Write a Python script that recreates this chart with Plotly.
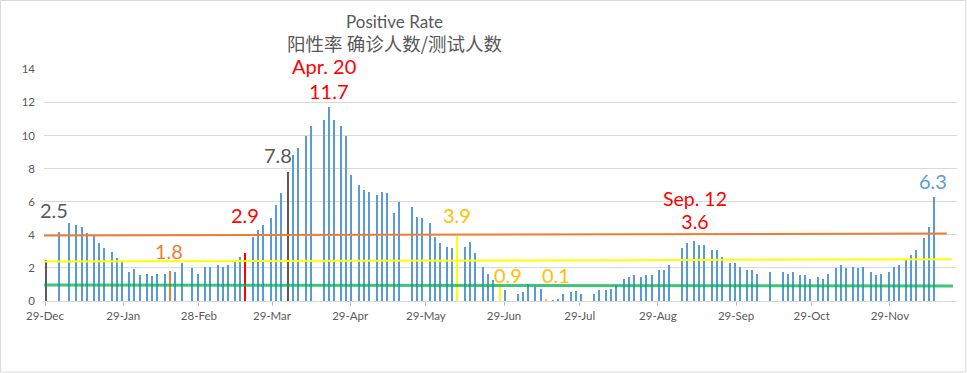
import plotly.graph_objects as go

# ---------------- data ----------------
dates = [
    "2020-12-29", "2021-01-03", "2021-01-07", "2021-01-10", "2021-01-12", "2021-01-14",
    "2021-01-17", "2021-01-19", "2021-01-21", "2021-01-24", "2021-01-26", "2021-01-28",
    "2021-01-31", "2021-02-02", "2021-02-04", "2021-02-07", "2021-02-09", "2021-02-11",
    "2021-02-14", "2021-02-16", "2021-02-18", "2021-02-21", "2021-02-25", "2021-02-27",
    "2021-03-02", "2021-03-04", "2021-03-07", "2021-03-09", "2021-03-11", "2021-03-14",
    "2021-03-16", "2021-03-18", "2021-03-21", "2021-03-23", "2021-03-25", "2021-03-28",
    "2021-03-30", "2021-04-01", "2021-04-04", "2021-04-06", "2021-04-08", "2021-04-11",
    "2021-04-13", "2021-04-18", "2021-04-20", "2021-04-22", "2021-04-25", "2021-04-27",
    "2021-04-29", "2021-05-02", "2021-05-04", "2021-05-06", "2021-05-09", "2021-05-11",
    "2021-05-13", "2021-05-16", "2021-05-18", "2021-05-23", "2021-05-25", "2021-05-27",
    "2021-05-30", "2021-06-01", "2021-06-03", "2021-06-06", "2021-06-08", "2021-06-10",
    "2021-06-13", "2021-06-15", "2021-06-17", "2021-06-20", "2021-06-22", "2021-06-24",
    "2021-06-27", "2021-06-29", "2021-07-04", "2021-07-06", "2021-07-08", "2021-07-11",
    "2021-07-13", "2021-07-15", "2021-07-18", "2021-07-20", "2021-07-22", "2021-07-25",
    "2021-07-27", "2021-07-29", "2021-08-03", "2021-08-05", "2021-08-08", "2021-08-10",
    "2021-08-12", "2021-08-15", "2021-08-17", "2021-08-19", "2021-08-22", "2021-08-24",
    "2021-08-26", "2021-08-29", "2021-08-31", "2021-09-02", "2021-09-07", "2021-09-09",
    "2021-09-12", "2021-09-14", "2021-09-16", "2021-09-19", "2021-09-21", "2021-09-23",
    "2021-09-26", "2021-09-28", "2021-09-30", "2021-10-03", "2021-10-05", "2021-10-07",
    "2021-10-12", "2021-10-17", "2021-10-19", "2021-10-21", "2021-10-24", "2021-10-26",
    "2021-10-28", "2021-10-31", "2021-11-02", "2021-11-04", "2021-11-07", "2021-11-09",
    "2021-11-11", "2021-11-14", "2021-11-16", "2021-11-18", "2021-11-21", "2021-11-23",
    "2021-11-25", "2021-11-28", "2021-11-30", "2021-12-02", "2021-12-05", "2021-12-07",
    "2021-12-09", "2021-12-12", "2021-12-14", "2021-12-16",
]
rates = [
    2.5, 4.2, 4.74, 4.6, 4.48, 4.12,
    3.96, 3.52, 3.22, 2.97, 2.61, 2.39,
    1.77, 1.91, 1.59, 1.61, 1.49, 1.61,
    1.61, 1.8, 1.77, 2.31, 2.01, 1.65,
    2.07, 2.07, 2.19, 2.07, 2.19, 2.49,
    2.66, 2.9, 3.85, 4.27, 4.57, 4.99,
    5.78, 6.51, 7.8, 8.8, 9.22, 9.95,
    10.55, 10.92, 11.7, 10.92, 10.55, 9.95,
    7.6, 6.99, 6.69, 6.57, 6.38, 6.57,
    6.51, 5.3, 5.96, 5.66, 5.06, 4.99,
    4.69, 3.85, 3.48, 3.24, 3.18, 3.9,
    3.24, 3.54, 2.9, 2.03, 1.61, 1.25,
    0.9, 0.64, 0.4, 0.52, 1.01, 0.83,
    0.7, 0.1, 0.06, 0.1, 0.4, 0.52,
    0.58, 0.4, 0.4, 0.64, 0.66, 0.72,
    0.95, 1.33, 1.46, 1.58, 1.46, 1.58,
    1.58, 1.88, 1.88, 2.18, 3.2, 3.5,
    3.6, 3.37, 3.37, 3.08, 3.08, 2.65,
    2.29, 2.29, 2.04, 1.86, 1.86, 1.62,
    1.74, 1.73, 1.61, 1.73, 1.55, 1.55,
    1.31, 1.43, 1.31, 1.61, 1.97, 2.17,
    1.98, 2.04, 1.98, 2.04, 1.74, 1.56,
    1.62, 1.74, 2.04, 2.16, 2.47, 2.77,
    3.08, 3.79, 4.46, 6.3,
]

highlight_dates = ["2020-12-29", "2021-02-16", "2021-03-18", "2021-04-04",
                   "2021-06-10", "2021-06-27", "2021-07-15"]
highlight_colors = ["#595959", "#ED7D31", "#FF0000", "#595959",
                    "#FFFF00", "#FFFF00", "#FFC000"]

tick_dates = ["2020-12-29", "2021-01-29", "2021-02-28", "2021-03-29", "2021-04-29",
              "2021-05-29", "2021-06-29", "2021-07-29", "2021-08-29", "2021-09-29",
              "2021-10-29", "2021-11-29"]
tick_labels = ["29-Dec", "29-Jan", "28-Feb", "29-Mar", "29-Apr", "29-May",
               "29-Jun", "29-Jul", "29-Aug", "29-Sep", "29-Oct", "29-Nov"]

# reference level lines (start/end date and value)
level_starts = ["2020-12-25", "2020-12-25", "2020-12-25"]
level_ends = ["2021-12-21 14:00", "2021-12-23 12:00", "2021-12-24 00:00"]
level_start_vals = [3.95, 2.38, 0.97]
level_end_vals = [4.08, 2.52, 0.90]
level_colors = ["#ED7D31", "#FFFF00", "rgba(0,176,80,0.75)"]
level_widths = [2, 2, 3]

# data labels (multi-line labels use <br>)
label_texts = ["2.5", "1.8", "2.9", "7.8", "Apr. 20", "11.7", "3.9", "0.9", "0.1",
               "Sep. 12<br>3.6", "6.3"]
label_dates = ["2020-12-29", "2021-02-16", "2021-03-18", "2021-04-04", "2021-04-20",
               "2021-04-20", "2021-06-10", "2021-06-27", "2021-07-15", "2021-09-12",
               "2021-12-16"]
label_values = [2.5, 1.8, 2.9, 7.8, 11.7, 11.7, 3.9, 0.9, 0.1, 3.6, 6.3]
label_colors = ["#595959", "#ED7D31", "#FF0000", "#595959", "#FF0000", "#FF0000",
                "#FFC000", "#FFC000", "#FFC000", "#FF0000", "#5B9BD5"]
label_xshift = [8, -1, -1, -10, -5, 0, 0, 8, 10, 1, -1]
label_yshift = [50, 20, 38, 17, 41, 16, 21, 11, 24, 31.5, 16]
label_base_size = [20, 20, 20, 20, 20, 20, 20, 20, 20, 17.5, 20]
label_line_size = [20, 20, 20, 20, 20, 20, 20, 20, 20, 19.5, 20]

# ---------------- layout geometry ----------------
W, H = 967, 373
ML, MR, MT, MB = 44, 10, 69, 72
PW, PH = W - ML - MR, H - MT - MB


def px_x(x):
    return (x - ML) / PW


def px_y(y):
    return (H - MB - y) / PH


FONT = "Lato, 'Noto Sans CJK SC', sans-serif"
GRAY = "#595959"

color_map = dict(zip(highlight_dates, highlight_colors))
bar_colors = [color_map.get(d, "#5B9BD5") for d in dates]

fig = go.Figure()
fig.add_trace(go.Bar(
    x=dates, y=rates,
    marker=dict(color=bar_colors, line=dict(width=0)),
    width=0.45 * 86400000,
    xperiod=86400000, xperiodalignment="middle",
    showlegend=False, hoverinfo="x+y",
))

for xs, xe, ys, ye, c, w in zip(level_starts, level_ends, level_start_vals,
                                level_end_vals, level_colors, level_widths):
    fig.add_trace(go.Scatter(x=[xs, xe], y=[ys, ye], mode="lines",
                             line=dict(color=c, width=w), showlegend=False,
                             hoverinfo="skip"))

annotations = []
for t, d, v, c, dx, dy, fs, ls in zip(label_texts, label_dates, label_values,
                                      label_colors, label_xshift, label_yshift,
                                      label_base_size, label_line_size):
    txt = "<br>".join(f"<span style='font-size:{ls}px'>{p}</span>" for p in t.split("<br>"))
    annotations.append(dict(
        x=d + " 12:00", y=v, xref="x", yref="y", text=txt, showarrow=False,
        xanchor="center", yanchor="middle", xshift=dx, yshift=dy,
        font=dict(family=FONT, size=fs, color=c),
    ))

annotations.append(dict(
    x=px_x(394), y=px_y(22), xref="paper", yref="paper", text="Positive Rate",
    showarrow=False, xanchor="center", yanchor="middle",
    font=dict(family=FONT, size=17, color=GRAY)))
annotations.append(dict(
    x=px_x(394.5), y=px_y(43), xref="paper", yref="paper",
    text="阳性率 确诊人数/测试人数",
    showarrow=False, xanchor="center", yanchor="middle",
    font=dict(family="'Noto Sans CJK SC', sans-serif", size=18.5, color=GRAY)))

fig.update_layout(
    width=W, height=H,
    margin=dict(l=ML, r=MR, t=MT, b=MB, pad=0),
    paper_bgcolor="white", plot_bgcolor="white",
    bargap=0,
    showlegend=False,
    annotations=annotations,
    shapes=[dict(type="rect", xref="paper", yref="paper",
                 x0=px_x(0.5), x1=px_x(966), y0=px_y(372), y1=px_y(0.5),
                 line=dict(color="#D9D9D9", width=1), fillcolor="rgba(0,0,0,0)",
                 layer="below")],
    xaxis=dict(
        type="date",
        range=["2020-12-28 14:24", "2021-12-25 14:24"],
        tickvals=tick_dates, ticktext=tick_labels,
        ticks="outside", ticklen=4, tickcolor="#BFBFBF",
        showline=True, linecolor="#D9D9D9", linewidth=1,
        showgrid=False, zeroline=False,
        tickfont=dict(family=FONT, size=11.5, color=GRAY),
    ),
    yaxis=dict(
        range=[0, 14.02], dtick=2, tick0=0,
        showgrid=True, gridcolor="#D9D9D9", gridwidth=1,
        zeroline=False, showline=False, ticks="",
        ticklabelstandoff=8,
        tickfont=dict(family=FONT, size=11.5, color=GRAY),
    ),
)

fig.write_html("out.html", config={"displayModeBar": False},
               post_script="document.body.style.margin='0';")
